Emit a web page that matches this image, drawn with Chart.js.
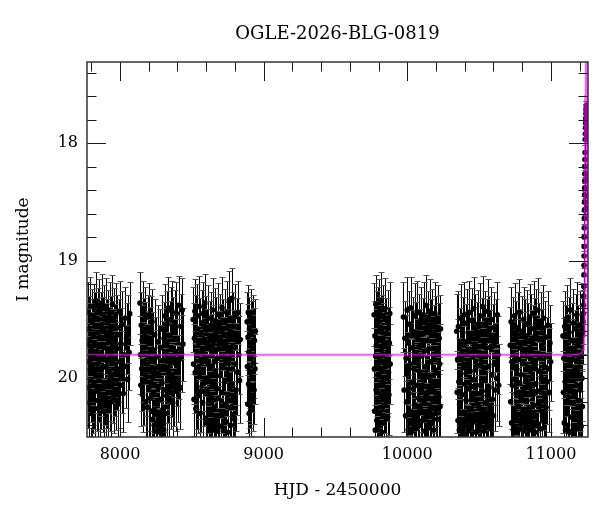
<!DOCTYPE html>
<html>
<head>
<meta charset="utf-8">
<script src="https://cdn.jsdelivr.net/npm/chart.js@4.4.1/dist/chart.umd.min.js"></script>
<style>
html,body{margin:0;padding:0;background:#fff;}
#c{display:block;}
</style>
</head>
<body>
<canvas id="c" width="600" height="512"></canvas>
<script>
// ---------- DATA ----------
const chartTitle = "OGLE-2026-BLG-0819";
const xTitle = "HJD - 2450000";
const yTitle = "I magnitude";
const xMajorTicks = [8000, 9000, 10000, 11000];
const xMinorTicks = [7800, 8200, 8400, 8600, 8800, 9200, 9400, 9600, 9800, 10200, 10400, 10600, 10800, 11200];
const yMajorTicks = [18, 19, 20];
const yMinorTicks = [17.4, 17.6, 17.8, 18.2, 18.4, 18.6, 18.8, 19.2, 19.4, 19.6, 19.8, 20.2, 20.4];

// observing seasons: [HJD-2450000, I mag, error]
const season1 = [[7774,19.71,.30],[7777,19.44,.26],[7779,20.08,.34],[7782,19.86,.33],[7784,19.58,.28],[7787,20.21,.30],[7789,19.67,.31],[7792,19.93,.36],[7794,19.39,.25],[7797,20.02,.35],[7799,19.76,.32],[7802,20.30,.26],[7804,19.52,.28],[7807,19.89,.34],[7809,19.63,.30],[7812,20.14,.33],[7814,19.81,.33],[7817,19.47,.27],[7819,20.05,.38],[7822,19.70,.30],[7824,20.26,.25],[7827,19.56,.29],[7829,19.95,.35],[7832,19.34,.24],[7834,19.78,.32],[7837,20.11,.34],[7839,19.61,.29],[7842,19.88,.36],[7844,20.19,.31],[7847,19.50,.27],[7849,19.73,.31],[7852,20.00,.37],[7854,19.42,.26],[7857,19.84,.33],[7859,20.23,.28],[7862,19.65,.30],[7864,19.97,.35],[7867,19.55,.28],[7869,20.09,.34],[7872,19.79,.32],[7874,19.36,.25],[7877,19.91,.36],[7879,20.16,.30],[7882,19.60,.29],[7884,19.82,.34],[7887,20.28,.27],[7889,19.48,.27],[7892,19.74,.31],[7894,20.04,.36],[7897,19.66,.30],[7899,19.90,.35],[7902,20.18,.32],[7904,19.41,.26],[7907,19.85,.33],[7909,19.62,.29],[7912,20.07,.35],[7914,19.77,.32],[7917,19.53,.28],[7919,20.24,.29],[7922,19.94,.36],[7924,19.69,.30],[7927,19.45,.27],[7929,20.12,.33],[7932,19.80,.34],[7934,19.59,.29],[7937,19.99,.37],[7939,20.20,.30],[7942,19.64,.30],[7944,19.87,.34],[7947,19.37,.25],[7949,20.03,.35],[7952,19.72,.31],[7955,19.51,.28],[7958,20.15,.32],[7961,19.83,.33],[7964,19.68,.31],[7967,19.96,.36],[7970,19.46,.27],[7973,20.10,.34],[7976,19.75,.32],[7979,19.57,.28],[7982,19.92,.35],[7986,20.22,.29],[7990,19.63,.30],[7994,19.86,.34],[7998,19.43,.26],[8002,20.06,.36],[8007,19.71,.31],[8012,19.95,.35],[8017,19.54,.28],[8022,20.13,.33],[8028,19.80,.33],[8034,19.49,.27],[8040,19.90,.35],[8046,19.66,.30],[8052,20.01,.36],[8058,19.58,.29],[8063,19.78,.32],[8067,19.45,.27]];
const season2 = [[8139,19.36,.26],[8142,19.80,.33],[8145,20.06,.35],[8148,19.55,.28],[8151,19.92,.36],[8154,19.68,.30],[8157,20.14,.32],[8160,19.44,.27],[8163,19.86,.34],[8166,19.61,.29],[8169,20.03,.37],[8172,19.74,.31],[8175,19.49,.27],[8178,19.97,.35],[8181,20.20,.30],[8184,19.65,.30],[8187,19.88,.34],[8190,20.25,.29],[8193,19.57,.28],[8196,19.79,.33],[8199,20.09,.36],[8202,19.46,.27],[8205,19.93,.35],[8208,19.70,.31],[8211,20.17,.33],[8214,19.59,.29],[8217,19.84,.34],[8220,20.28,.28],[8223,19.52,.28],[8226,20.00,.37],[8229,20.35,.26],[8232,19.76,.32],[8235,20.12,.35],[8238,20.40,.24],[8241,19.63,.30],[8244,19.95,.36],[8247,20.31,.29],[8250,20.45,.21],[8253,19.82,.34],[8256,20.22,.33],[8259,20.38,.26],[8262,19.69,.31],[8265,20.08,.37],[8268,20.43,.23],[8271,19.90,.35],[8274,20.33,.29],[8277,20.46,.20],[8280,19.74,.33],[8283,20.18,.35],[8286,20.41,.25],[8289,19.58,.29],[8292,20.04,.37],[8295,20.36,.27],[8298,19.85,.34],[8301,20.26,.31],[8304,20.44,.22],[8307,19.66,.31],[8310,20.10,.36],[8313,19.47,.27],[8316,20.30,.30],[8319,19.91,.35],[8322,19.72,.32],[8325,20.15,.34],[8328,19.54,.28],[8331,20.02,.36],[8334,19.81,.33],[8337,19.40,.26],[8340,19.96,.35],[8343,20.19,.31],[8346,19.64,.30],[8349,19.87,.34],[8352,19.50,.28],[8355,20.07,.36],[8358,19.75,.32],[8361,19.43,.26],[8364,19.98,.35],[8367,20.21,.30],[8370,19.60,.29],[8373,19.83,.33],[8376,20.05,.36],[8380,19.53,.28],[8384,19.77,.32],[8388,20.11,.34],[8392,19.45,.27],[8396,19.89,.35],[8400,19.67,.30],[8404,20.00,.37],[8408,19.38,.25],[8413,19.84,.34],[8418,20.08,.35],[8423,19.56,.28],[8428,19.79,.33],[8433,19.42,.27],[8437,19.71,.31]];
const season3 = [[8509,19.50,.28],[8512,19.88,.34],[8515,20.18,.31],[8518,19.66,.30],[8521,19.43,.27],[8524,19.95,.35],[8527,20.26,.29],[8530,19.58,.29],[8533,19.80,.33],[8536,20.07,.36],[8539,19.47,.27],[8542,19.91,.35],[8545,20.15,.32],[8548,19.70,.31],[8551,19.39,.26],[8554,19.99,.36],[8557,20.30,.28],[8560,19.62,.30],[8563,19.85,.34],[8566,20.11,.35],[8569,19.53,.28],[8572,19.76,.32],[8575,20.21,.31],[8578,19.45,.27],[8581,19.93,.35],[8584,19.67,.30],[8587,20.04,.37],[8590,19.36,.25],[8593,19.82,.33],[8596,20.34,.27],[8599,19.59,.29],[8602,20.00,.36],[8605,20.38,.25],[8608,19.73,.32],[8611,20.13,.34],[8614,19.49,.28],[8617,19.89,.35],[8620,20.27,.30],[8623,19.64,.30],[8626,20.42,.22],[8629,19.97,.36],[8632,19.55,.28],[8635,20.20,.33],[8638,19.78,.33],[8641,20.36,.27],[8644,19.42,.27],[8647,20.06,.36],[8650,19.69,.31],[8653,20.44,.21],[8656,19.86,.34],[8659,20.24,.32],[8662,19.51,.28],[8665,19.94,.35],[8668,20.39,.25],[8671,19.61,.30],[8674,20.09,.36],[8677,19.83,.33],[8680,20.45,.20],[8683,19.46,.27],[8686,20.17,.33],[8689,19.75,.32],[8692,20.32,.29],[8695,19.57,.29],[8698,19.98,.36],[8701,20.41,.24],[8704,19.68,.31],[8707,20.12,.35],[8710,19.40,.26],[8713,19.90,.35],[8716,20.29,.30],[8719,19.63,.30],[8722,20.43,.22],[8725,19.81,.33],[8728,20.03,.37],[8731,19.52,.28],[8734,20.22,.32],[8737,19.72,.31],[8740,20.37,.26],[8743,19.44,.27],[8746,19.96,.36],[8749,20.46,.20],[8752,19.65,.30],[8755,20.14,.35],[8758,19.87,.34],[8761,19.34,.25],[8764,20.25,.31],[8767,19.60,.29],[8770,20.40,.24],[8773,19.79,.33],[8776,20.05,.36],[8779,19.32,.26],[8782,19.92,.35],[8785,20.31,.29],[8788,19.56,.29],[8791,20.16,.34],[8794,19.74,.32],[8797,20.35,.27],[8800,19.48,.28],[8804,19.88,.35],[8808,20.10,.35],[8812,19.62,.30],[8817,19.95,.36],[8822,19.44,.27],[8827,19.80,.33],[8832,20.02,.36],[8836,19.67,.31]];
const season4 = [[8885,19.52,.25],[8887,19.90,.30],[8889,20.22,.25],[8891,19.65,.28],[8893,19.44,.23],[8895,20.05,.31],[8897,19.78,.29],[8899,20.30,.22],[8901,19.58,.27],[8903,19.95,.30],[8905,20.14,.28],[8907,19.70,.29],[8909,19.48,.24],[8911,20.08,.31],[8913,19.83,.29],[8915,20.26,.23],[8917,19.61,.27],[8919,19.99,.30],[8921,19.74,.28],[8924,20.18,.27],[8927,19.55,.26],[8930,19.87,.30],[8933,20.10,.29],[8936,19.68,.28],[8939,19.92,.30],[8942,19.60,.27]];
const season5 = [[9769,19.46,.27],[9771,19.92,.35],[9773,20.28,.29],[9775,19.64,.30],[9777,20.44,.21],[9779,19.81,.33],[9781,19.37,.25],[9783,20.10,.36],[9785,19.72,.31],[9787,20.36,.26],[9789,19.55,.29],[9791,19.97,.35],[9793,20.20,.31],[9795,19.50,.28],[9797,19.88,.34],[9799,20.41,.23],[9801,19.68,.30],[9803,20.06,.36],[9805,19.43,.27],[9807,19.83,.33],[9809,20.30,.29],[9811,19.60,.29],[9813,19.99,.36],[9815,19.34,.24],[9817,20.16,.33],[9819,19.76,.32],[9821,20.46,.20],[9823,19.58,.29],[9825,19.94,.35],[9827,20.25,.30],[9829,19.66,.30],[9831,20.03,.37],[9833,19.48,.27],[9835,19.86,.34],[9837,20.38,.26],[9839,19.71,.31],[9842,20.12,.35],[9845,19.41,.26],[9848,19.90,.35],[9851,20.22,.31],[9854,19.62,.30],[9857,20.00,.36],[9860,19.79,.33],[9863,20.33,.28],[9866,19.53,.28],[9869,19.95,.35],[9872,20.14,.34],[9875,19.70,.31],[9878,19.45,.27],[9881,19.88,.34]];
const season6 = [[9973,19.48,.30],[9978,20.10,.36],[9983,19.66,.32],[9988,20.32,.30],[9992,19.83,.37],[9996,20.20,.33],[10000,19.42,.28],[10003,19.97,.36],[10006,20.44,.22],[10009,19.70,.31],[10012,20.13,.35],[10015,19.54,.28],[10018,20.28,.31],[10021,19.88,.35],[10024,19.40,.26],[10027,20.46,.20],[10030,20.04,.37],[10033,19.74,.32],[10036,20.37,.27],[10039,19.60,.29],[10042,20.09,.36],[10045,19.92,.34],[10048,20.41,.24],[10051,19.47,.28],[10054,20.23,.32],[10057,19.79,.33],[10060,20.43,.22],[10063,19.65,.30],[10066,20.06,.37],[10069,19.44,.27],[10072,20.31,.30],[10075,19.85,.35],[10078,20.17,.34],[10081,19.57,.29],[10084,20.40,.24],[10087,19.95,.36],[10090,19.72,.31],[10093,20.27,.32],[10096,19.50,.28],[10099,20.11,.35],[10102,19.81,.33],[10105,20.36,.26],[10108,19.62,.30],[10111,20.01,.36],[10114,19.46,.28],[10117,20.21,.33],[10120,19.77,.32],[10123,20.45,.21],[10126,19.90,.35],[10129,19.38,.26],[10132,20.15,.35],[10135,19.68,.31],[10138,20.33,.29],[10141,19.55,.29],[10144,19.99,.36],[10147,20.42,.23],[10150,19.75,.32],[10153,20.08,.36],[10156,19.43,.27],[10159,20.26,.31],[10162,19.86,.34],[10165,20.39,.25],[10168,19.63,.30],[10171,20.03,.37],[10174,19.52,.28],[10177,20.19,.33],[10180,19.80,.33],[10183,20.44,.22],[10186,19.69,.31],[10189,20.12,.35],[10192,19.45,.27],[10195,19.93,.35],[10198,20.30,.30],[10201,19.59,.29],[10204,20.05,.36],[10207,19.78,.32],[10210,20.35,.27],[10213,19.49,.28],[10216,19.96,.35],[10219,20.16,.34],[10222,19.66,.30],[10225,19.88,.34],[10228,20.24,.31],[10231,19.58,.29]];
const season7 = [[10344,19.60,.32],[10347,20.12,.35],[10350,19.84,.34],[10353,20.36,.28],[10356,19.56,.30],[10359,20.03,.37],[10362,20.44,.22],[10365,19.73,.33],[10368,20.22,.32],[10371,19.49,.29],[10374,19.96,.36],[10377,20.40,.25],[10380,19.79,.34],[10383,20.14,.36],[10386,19.61,.30],[10389,20.46,.20],[10392,19.91,.35],[10395,20.29,.30],[10398,19.46,.28],[10401,20.05,.37],[10404,20.42,.24],[10407,19.69,.32],[10410,20.19,.34],[10413,19.53,.29],[10416,20.34,.28],[10419,19.87,.35],[10422,20.45,.22],[10425,19.76,.33],[10428,20.09,.36],[10431,19.44,.27],[10434,20.27,.31],[10437,19.94,.35],[10440,20.43,.23],[10443,19.64,.31],[10446,20.07,.36],[10449,19.51,.28],[10452,20.38,.28],[10455,19.82,.34],[10458,20.17,.35],[10461,19.41,.27],[10464,20.01,.37],[10467,19.71,.32],[10470,20.31,.30],[10473,19.58,.30],[10476,19.93,.35],[10479,20.46,.21],[10482,19.66,.31],[10485,20.13,.34],[10488,19.89,.35],[10491,20.40,.25],[10494,19.54,.29],[10497,20.24,.33],[10500,19.78,.33],[10503,20.44,.22],[10506,19.47,.28],[10509,20.06,.36],[10512,19.85,.34],[10515,20.35,.27],[10518,19.62,.30],[10521,20.11,.35],[10524,19.39,.26],[10527,20.28,.31],[10530,19.92,.35],[10533,20.45,.21],[10536,19.70,.32],[10539,20.02,.37],[10542,19.55,.29],[10545,20.21,.33],[10548,19.81,.33],[10551,20.41,.24],[10554,19.63,.30],[10557,20.15,.35],[10560,19.43,.27],[10563,20.33,.29],[10566,19.90,.35],[10569,20.08,.36],[10572,19.59,.29],[10575,20.26,.31],[10578,19.74,.32],[10581,20.43,.23],[10584,19.50,.28],[10588,19.97,.36],[10592,20.18,.34],[10596,19.68,.31],[10600,20.32,.30],[10604,19.57,.30],[10608,19.88,.35],[10612,20.10,.35],[10617,19.64,.31],[10622,20.00,.36],[10627,19.46,.28],[10632,19.80,.33],[10636,20.06,.35]];
const season8 = [[10717,19.72,.33],[10720,20.20,.34],[10723,19.52,.30],[10726,20.38,.26],[10729,19.86,.35],[10732,20.06,.37],[10735,19.62,.31],[10738,20.44,.21],[10741,19.80,.34],[10744,20.28,.30],[10747,19.47,.28],[10750,20.01,.37],[10753,20.41,.24],[10756,19.66,.32],[10759,20.13,.35],[10762,19.93,.35],[10765,20.46,.20],[10768,19.57,.30],[10771,20.24,.33],[10774,19.84,.34],[10777,20.36,.27],[10780,19.44,.28],[10783,20.04,.37],[10786,19.74,.33],[10789,20.43,.22],[10792,19.97,.36],[10795,20.17,.34],[10798,19.60,.30],[10801,20.33,.28],[10804,19.87,.35],[10807,20.45,.21],[10810,19.50,.28],[10813,20.09,.36],[10816,19.77,.33],[10819,20.30,.30],[10822,19.64,.31],[10825,20.02,.37],[10828,20.40,.24],[10831,19.54,.29],[10834,20.19,.34],[10837,19.91,.35],[10840,19.68,.32],[10843,20.27,.31],[10846,19.82,.34],[10849,20.44,.22],[10852,19.48,.28],[10855,20.07,.36],[10858,19.75,.33],[10861,20.35,.28],[10864,19.58,.30],[10867,19.99,.36],[10870,20.42,.23],[10873,19.70,.32],[10876,20.14,.35],[10879,19.45,.28],[10882,20.23,.33],[10885,19.89,.35],[10888,20.46,.20],[10891,19.63,.31],[10894,20.05,.37],[10897,19.53,.29],[10900,20.32,.29],[10903,19.79,.33],[10906,20.11,.35],[10909,19.42,.27],[10912,20.39,.25],[10915,19.94,.35],[10918,19.67,.31],[10921,20.21,.33],[10924,19.83,.34],[10927,20.43,.22],[10930,19.56,.29],[10933,20.00,.37],[10936,19.73,.32],[10939,20.29,.31],[10942,19.61,.30],[10945,20.08,.36],[10948,19.49,.28],[10951,20.37,.27],[10954,19.90,.35],[10958,20.16,.34],[10962,19.65,.31],[10966,20.25,.32],[10970,19.81,.33],[10974,20.03,.36],[10978,19.55,.29],[10983,19.92,.35],[10988,20.12,.34],[10993,19.70,.32],[10998,19.86,.33]];
const season9 = [[11084,19.64,.30],[11087,20.12,.35],[11090,19.83,.34],[11093,20.38,.26],[11096,19.56,.30],[11099,20.03,.36],[11102,20.44,.21],[11105,19.71,.33],[11108,20.26,.32],[11111,19.49,.28],[11114,19.96,.36],[11117,20.40,.25],[11120,19.79,.34],[11123,20.16,.35],[11126,19.61,.30],[11129,20.46,.20],[11132,19.88,.35],[11135,19.42,.27],[11138,20.08,.36],[11141,20.33,.29],[11144,19.68,.32],[11147,20.45,.21],[11150,19.84,.34],[11153,20.21,.33],[11156,19.53,.29],[11159,20.01,.36],[11162,20.42,.23],[11165,19.75,.33],[11168,20.14,.35],[11171,19.58,.30],[11174,20.30,.30],[11177,19.92,.35],[11180,19.46,.28],[11183,20.06,.36],[11186,20.43,.22],[11189,19.70,.32],[11192,20.19,.34],[11195,19.86,.34],[11198,20.36,.27],[11201,19.55,.29],[11204,20.10,.35],[11207,19.78,.33],[11210,20.41,.24],[11213,19.63,.31],[11216,20.00,.36],[11219,20.24,.32]];
const eventPoints = [[11222,19.60,.28],[11224,19.52,.27],[11226,19.45,.26],[11227,19.38,.25],[11228,19.30,.24],[11229,19.22,.22],[11230,19.12,.20],[11230.5,19.04,.18],[11231,18.96,.17],[11231.5,18.88,.16],[11232,18.80,.15],[11232.5,18.72,.14],[11233,18.64,.13],[11233.5,18.57,.12],[11234,18.50,.11],[11234.5,18.44,.10],[11235,18.38,.09],[11235.5,18.32,.09],[11236,18.26,.08],[11236.5,18.20,.07],[11237,18.14,.07],[11238,18.08,.06],[11239,17.97,.05],[11240,17.92,.05],[11241,17.87,.05],[11242,17.83,.04],[11243,17.79,.04],[11244,17.75,.04],[11245,17.71,.04],[11246,17.68,.04],[11247,17.73,.04],[11248,17.80,.04],[11249,17.88,.04],[11250,17.95,.05],[11251,18.30,.06],[11252,18.45,.07],[11253,18.55,.08]];

// microlensing model curve (magenta)
const modelT = [7770, 11180, 11200, 11215, 11224, 11229, 11232, 11233.5, 11235, 11236.5, 11238, 11241, 11244, 11247, 11249, 11252, 11255, 11258];
const modelM = [19.80, 19.80, 19.795, 19.785, 19.76, 19.72, 19.64, 19.50, 19.15, 18.50, 17.60, 16.60, 16.30, 16.70, 17.40, 18.40, 19.20, 19.69];

const xMin = 7770, xMax = 11258;
const yMin = 17.31, yMax = 20.5;
// -----------------------------------------------------------

const allPoints = [].concat(season1, season2, season3, season4, season5, season6, season7, season8, season9, eventPoints);
const FONT = "'DejaVu Serif', 'Liberation Serif', serif";

const errorBars = {
  id: 'errorBars',
  beforeDatasetsDraw(chart) {
    const {ctx, chartArea: a, scales: {x, y}} = chart;
    ctx.save();
    ctx.beginPath();
    ctx.rect(a.left, a.top, a.right - a.left, a.bottom - a.top);
    ctx.clip();
    ctx.lineWidth = 1;
    ctx.strokeStyle = '#000';
    ctx.beginPath();
    for (const p of allPoints) {
      const px = Math.round(x.getPixelForValue(p[0])) + 0.5;
      const y1 = Math.round(y.getPixelForValue(p[1] - p[2])) + 0.5;
      const y2 = Math.round(y.getPixelForValue(p[1] + p[2])) + 0.5;
      ctx.moveTo(px, y1); ctx.lineTo(px, y2);
    }
    ctx.stroke();
    ctx.strokeStyle = '#555';
    ctx.beginPath();
    for (const p of allPoints) {
      const px = Math.round(x.getPixelForValue(p[0])) + 0.5;
      const y1 = Math.round(y.getPixelForValue(p[1] - p[2])) + 0.5;
      const y2 = Math.round(y.getPixelForValue(p[1] + p[2])) + 0.5;
      ctx.moveTo(px - 3, y1); ctx.lineTo(px + 3, y1);
      ctx.moveTo(px - 3, y2); ctx.lineTo(px + 3, y2);
    }
    ctx.stroke();
    ctx.restore();
  }
};

const frameTicks = {
  id: 'frameTicks',
  afterDraw(chart) {
    const {ctx, chartArea: a, scales: {x, y}} = chart;
    ctx.save();
    ctx.strokeStyle = '#1a1a1a';
    ctx.lineWidth = 1;
    const major = 19, minor = 9.5;
    ctx.beginPath();
    const vt = (vals, len) => {
      for (const v of vals) {
        const px = Math.round(x.getPixelForValue(v)) + 0.5;
        ctx.moveTo(px, a.bottom); ctx.lineTo(px, a.bottom - len);
        ctx.moveTo(px, a.top); ctx.lineTo(px, a.top + len);
      }
    };
    const ht = (vals, len) => {
      for (const v of vals) {
        const py = Math.round(y.getPixelForValue(v)) + 0.5;
        ctx.moveTo(a.left, py); ctx.lineTo(a.left + len, py);
        ctx.moveTo(a.right, py); ctx.lineTo(a.right - len, py);
      }
    };
    vt(xMajorTicks, major); vt(xMinorTicks, minor);
    ht(yMajorTicks, major); ht(yMinorTicks, minor);
    ctx.stroke();
    ctx.lineWidth = 1.5;
    ctx.strokeStyle = '#333';
    ctx.strokeRect(a.left, a.top, a.right - a.left, a.bottom - a.top);
    ctx.restore();
  }
};

new Chart(document.getElementById('c'), {
  type: 'scatter',
  data: {
    datasets: [
      {
        label: 'model',
        data: modelT.map((t, i) => ({x: t, y: modelM[i]})),
        showLine: true,
        borderColor: 'rgba(255,0,255,0.65)',
        borderWidth: 2,
        pointRadius: 0,
        tension: 0,
        order: 0
      },
      {
        label: 'OGLE I',
        data: allPoints.map(p => ({x: p[0], y: p[1]})),
        pointRadius: 2.8,
        pointBackgroundColor: '#000',
        pointBorderWidth: 0,
        order: 1
      }
    ]
  },
  options: {
    responsive: false,
    animation: false,
    devicePixelRatio: 1,
    events: [],
    layout: {padding: {left: 0, right: 12, top: 0, bottom: 0}},
    plugins: {
      legend: {display: false},
      tooltip: {enabled: false},
      title: {
        display: true,
        text: chartTitle,
        fullSize: false,
        color: '#000',
        font: {family: FONT, size: 18, weight: 'normal', lineHeight: 1.2},
        padding: {top: 24, bottom: 16.4}
      }
    },
    scales: {
      x: {
        type: 'linear',
        position: 'bottom',
        min: xMin, max: xMax,
        afterBuildTicks: s => { s.ticks = xMajorTicks.map(v => ({value: v})); },
        afterFit: s => { s.height = 75; },
        grid: {display: false, drawTicks: false},
        border: {display: false},
        ticks: {color: '#000', font: {family: FONT, size: 16}, padding: 8, maxRotation: 0, callback: v => String(v)},
        title: {display: true, text: xTitle, color: '#000', font: {family: FONT, size: 17, lineHeight: 1.2}, padding: {top: 0, bottom: 11}}
      },
      y: {
        type: 'linear',
        position: 'left',
        reverse: true,
        min: yMin, max: yMax,
        afterBuildTicks: s => { s.ticks = yMajorTicks.map(v => ({value: v})); },
        afterFit: s => { s.width = 87; },
        grid: {display: false, drawTicks: false},
        border: {display: false},
        ticks: {color: '#000', font: {family: FONT, size: 16}, padding: 9, callback: v => String(v)},
        title: {display: true, text: yTitle, color: '#000', font: {family: FONT, size: 17, lineHeight: 1.2}, padding: {top: 13, bottom: 0}}
      }
    }
  },
  plugins: [errorBars, frameTicks]
});
</script>
</body>
</html>
